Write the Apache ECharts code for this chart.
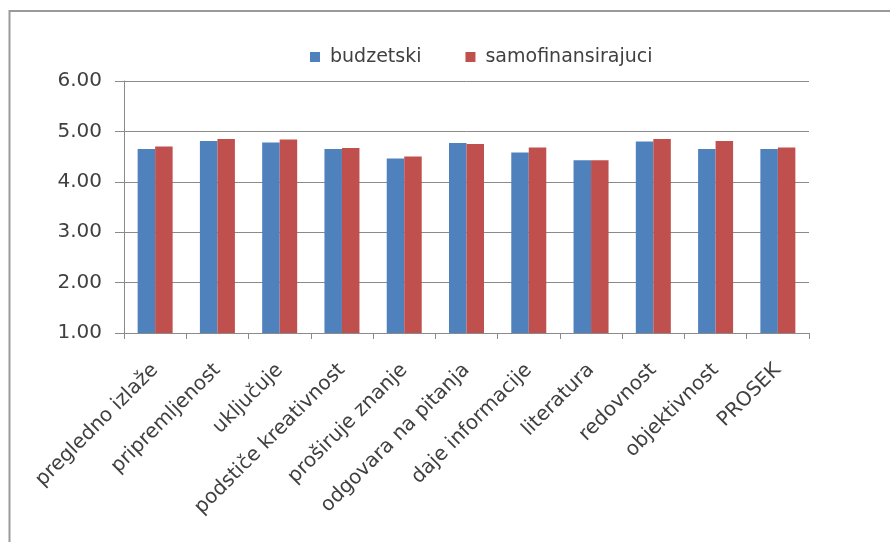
<!DOCTYPE html>
<html>
<head>
<meta charset="utf-8">
<script src="https://cdn.jsdelivr.net/npm/echarts@6/dist/echarts.min.js"></script>
<style>
html,body{margin:0;padding:0;background:#fff;}
#chart{width:890px;height:542px;}
</style>
</head>
<body>
<div id="chart"></div>
<script>
const categories = ['pregledno izlaže','pripremljenost','uključuje','podstiče kreativnost','proširuje znanje','odgovara na pitanja','daje informacije','literatura','redovnost','objektivnost','PROSEK'];
const budzetski = [4.65, 4.81, 4.78, 4.65, 4.46, 4.77, 4.58, 4.43, 4.80, 4.65, 4.65];
const samofinansirajuci = [4.70, 4.85, 4.84, 4.67, 4.50, 4.75, 4.68, 4.43, 4.85, 4.81, 4.68];
const seriesNames = ['budzetski','samofinansirajuci'];

const font = 'DejaVu Sans';
const textColor = '#404040';
const chart = echarts.init(document.getElementById('chart'), null, {renderer:'canvas'});
chart.setOption({
  animation: false,
  backgroundColor: '#fff',
  color: ['#4F81BD','#C0504D'],
  graphic: [{
    type: 'rect',
    shape: {x: 9.5, y: 11, width: 1200, height: 800},
    style: {fill: 'none', stroke: '#9a9a9a', lineWidth: 2},
    silent: true
  }],
  legend: {
    data: seriesNames,
    left: 305,
    top: 42,
    icon: 'rect',
    itemWidth: 10,
    itemHeight: 10,
    itemGap: 44,
    textStyle: {fontFamily: font, fontSize: 19, color: textColor, lineHeight: 20, padding: [0,0,0,5]}
  },
  grid: {left: 124, right: 81, top: 81, bottom: 209, containLabel: false},
  xAxis: {
    type: 'category',
    data: categories,
    axisLine: {lineStyle: {color: '#8a8a8a', width: 1}},
    axisTick: {show: true, length: 6, interval: 0, lineStyle: {color: '#8a8a8a'}},
    axisLabel: {interval: 0, rotate: 45, margin: 34, fontFamily: font, fontSize: 20, color: textColor}
  },
  yAxis: {
    type: 'value',
    min: 1, max: 6, interval: 1,
    axisLine: {show: true, lineStyle: {color: '#8a8a8a', width: 1}},
    axisTick: {show: true, length: 9, lineStyle: {color: '#8a8a8a'}},
    axisLabel: {margin: 22, fontFamily: font, fontSize: 20, color: textColor, formatter: v => v.toFixed(2)},
    splitLine: {show: true, lineStyle: {color: '#8a8a8a', width: 1}}
  },
  series: [
    {name: seriesNames[0], type: 'bar', data: budzetski, barWidth: 17.5, barGap: '0%'},
    {name: seriesNames[1], type: 'bar', data: samofinansirajuci, barWidth: 17.5, barGap: '0%'}
  ]
});
</script>
</body>
</html>
